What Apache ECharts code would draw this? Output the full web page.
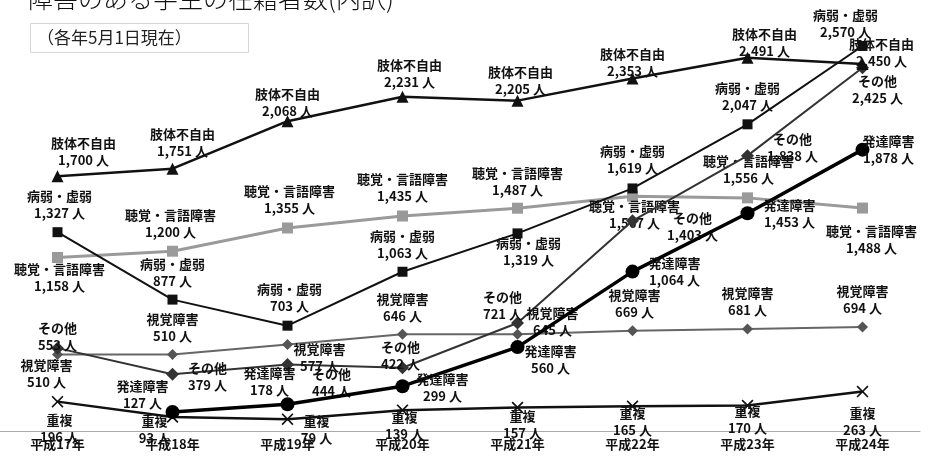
<!DOCTYPE html>
<html>
<head>
<meta charset="utf-8">
<script src="https://cdn.jsdelivr.net/npm/echarts@6/dist/echarts.min.js"></script>
<style>
  html, body { margin: 0; padding: 0; background: #fff; }
  #chart { width: 928px; height: 460px; }
</style>
</head>
<body>
<div id="chart"></div>
<script>
// 年度（カテゴリ）
const years = ['平成17年', '平成18年', '平成19年', '平成20年', '平成21年', '平成22年', '平成23年', '平成24年'];

// 障害種別ごとの在籍者数（人）
const shitai    = [1700, 1751, 2068, 2231, 2205, 2353, 2491, 2450]; // 肢体不自由
const byoujaku  = [1327, 877, 703, 1063, 1319, 1619, 2047, 2570];   // 病弱・虚弱
const choukaku  = [1158, 1200, 1355, 1435, 1487, 1567, 1556, 1488]; // 聴覚・言語障害
const shikaku   = [510, 510, 577, 646, 645, 669, 681, 694];         // 視覚障害
const sonota    = [553, 379, 444, 422, 721, 1403, 1838, 2425];      // その他
const hattatsu  = [null, 127, 178, 299, 560, 1064, 1453, 1878];     // 発達障害
const juufuku   = [196, 93, 79, 139, 157, 165, 170, 263];           // 重複

// 各データラベルの位置調整（マーカー中心からのずれ, px）
const labelShift = {
  '肢体不自由':   [[26,-25],[10,-26],[0,-19],[7,-23],[3,-20],[0,-16],[17,-15],[19,-11]],
  '病弱・虚弱':   [[2,-28],[0,-27],[2,-28],[0,-27],[11,18],[0,-29],[0,-28],[-17,-22]],
  '聴覚・言語障害': [[2,20],[-2,-28],[2,-28],[0,-28],[0,-27],[2,18],[1,-28],[9,31]],
  '視覚障害':     [[-11,19],[0,-27],[32,13],[0,-27],[35,-13],[2,-27],[0,-27],[0,-27]],
  'その他':       [[0,-12],[35,2],[44,18],[-2,-12],[-15,-17],[60,6],[45,-8],[15,22]],
  '発達障害':     [[0,0],[-30,-17],[-18,-23],[40,1],[33,12],[42,0],[42,0],[26,0]],
  '重複':         [[2,27],[-18,12],[29,10],[2,15],[5,17],[0,15],[0,14],[0,30]]
};

const crossPath = 'path://M0,1L1,0L5,4L9,0L10,1L6,5L10,9L9,10L5,6L1,10L0,9L4,5Z';

function fmt(v) {
  return v.toLocaleString('en-US');
}

function makeSeries(name, values, opt) {
  const shifts = labelShift[name];
  return {
    name: name,
    type: 'line',
    data: values.map(function (v, i) {
      if (v === null) return '-';
      return { value: v, label: { offset: shifts[i] } };
    }),
    symbol: opt.symbol,
    symbolSize: opt.symbolSize,
    z: opt.z || 2,
    lineStyle: { color: opt.lineColor, width: opt.lineWidth },
    itemStyle: { color: opt.markColor || opt.lineColor },
    label: {
      show: true,
      position: 'inside',
      align: 'center',
      verticalAlign: 'middle',
      fontFamily: '"Noto Sans CJK JP", sans-serif',
      fontWeight: 'bold',
      fontSize: 13,
      lineHeight: 17,
      color: '#111',
      formatter: function (p) {
        return name + '\n' + fmt(p.value) + ' 人';
      }
    },
    emphasis: { disabled: true },
    connectNulls: false
  };
}

const chart = echarts.init(document.getElementById('chart'), null, { renderer: 'canvas' });

chart.setOption({
  animation: false,
  backgroundColor: '#ffffff',
  grid: { left: -5, right: 8, top: 11.5, bottom: 29 },
  xAxis: {
    type: 'category',
    data: years,
    boundaryGap: true,
    axisLine: { show: true, lineStyle: { color: '#aaaaaa', width: 1 } },
    axisTick: { show: false },
    axisLabel: {
      margin: 7,
      fontFamily: '"Noto Sans CJK JP", sans-serif',
      fontWeight: 'bold',
      fontSize: 13,
      color: '#111'
    },
    splitLine: { show: false }
  },
  yAxis: {
    type: 'value',
    min: 0,
    max: 2800,
    show: false,
    splitLine: { show: false }
  },
  graphic: [
    {
      type: 'text',
      left: 28,
      top: -14,
      style: {
        text: '障害のある学生の在籍者数(内訳)',
        font: '300 25px "Noto Sans CJK JP", sans-serif',
        fill: '#111'
      }
    },
    {
      type: 'rect',
      shape: { x: 30.5, y: 23.5, width: 218, height: 29 },
      style: { fill: '#ffffff', stroke: '#d6d6d6', lineWidth: 1 }
    },
    {
      type: 'text',
      left: 37,
      top: 29,
      style: {
        text: '（各年5月1日現在）',
        font: '17px "Noto Sans CJK JP", sans-serif',
        fill: '#222'
      }
    }
  ],
  series: [
    makeSeries('聴覚・言語障害', choukaku, { symbol: 'rect', symbolSize: 11, lineColor: '#9a9a9a', lineWidth: 3, z: 1 }),
    makeSeries('視覚障害', shikaku, { symbol: 'diamond', symbolSize: 11, lineColor: '#666666', lineWidth: 2, markColor: '#555555' }),
    makeSeries('その他', sonota, { symbol: 'diamond', symbolSize: 13, lineColor: '#333333', lineWidth: 2 }),
    makeSeries('重複', juufuku, { symbol: crossPath, symbolSize: 12, lineColor: '#111111', lineWidth: 2.5 }),
    makeSeries('病弱・虚弱', byoujaku, { symbol: 'rect', symbolSize: 10, lineColor: '#111111', lineWidth: 2 }),
    makeSeries('発達障害', hattatsu, { symbol: 'circle', symbolSize: 14, lineColor: '#000000', lineWidth: 3.5, z: 3 }),
    makeSeries('肢体不自由', shitai, { symbol: 'triangle', symbolSize: 12, lineColor: '#111111', lineWidth: 2.5, z: 3 })
  ]
});
</script>
</body>
</html>
